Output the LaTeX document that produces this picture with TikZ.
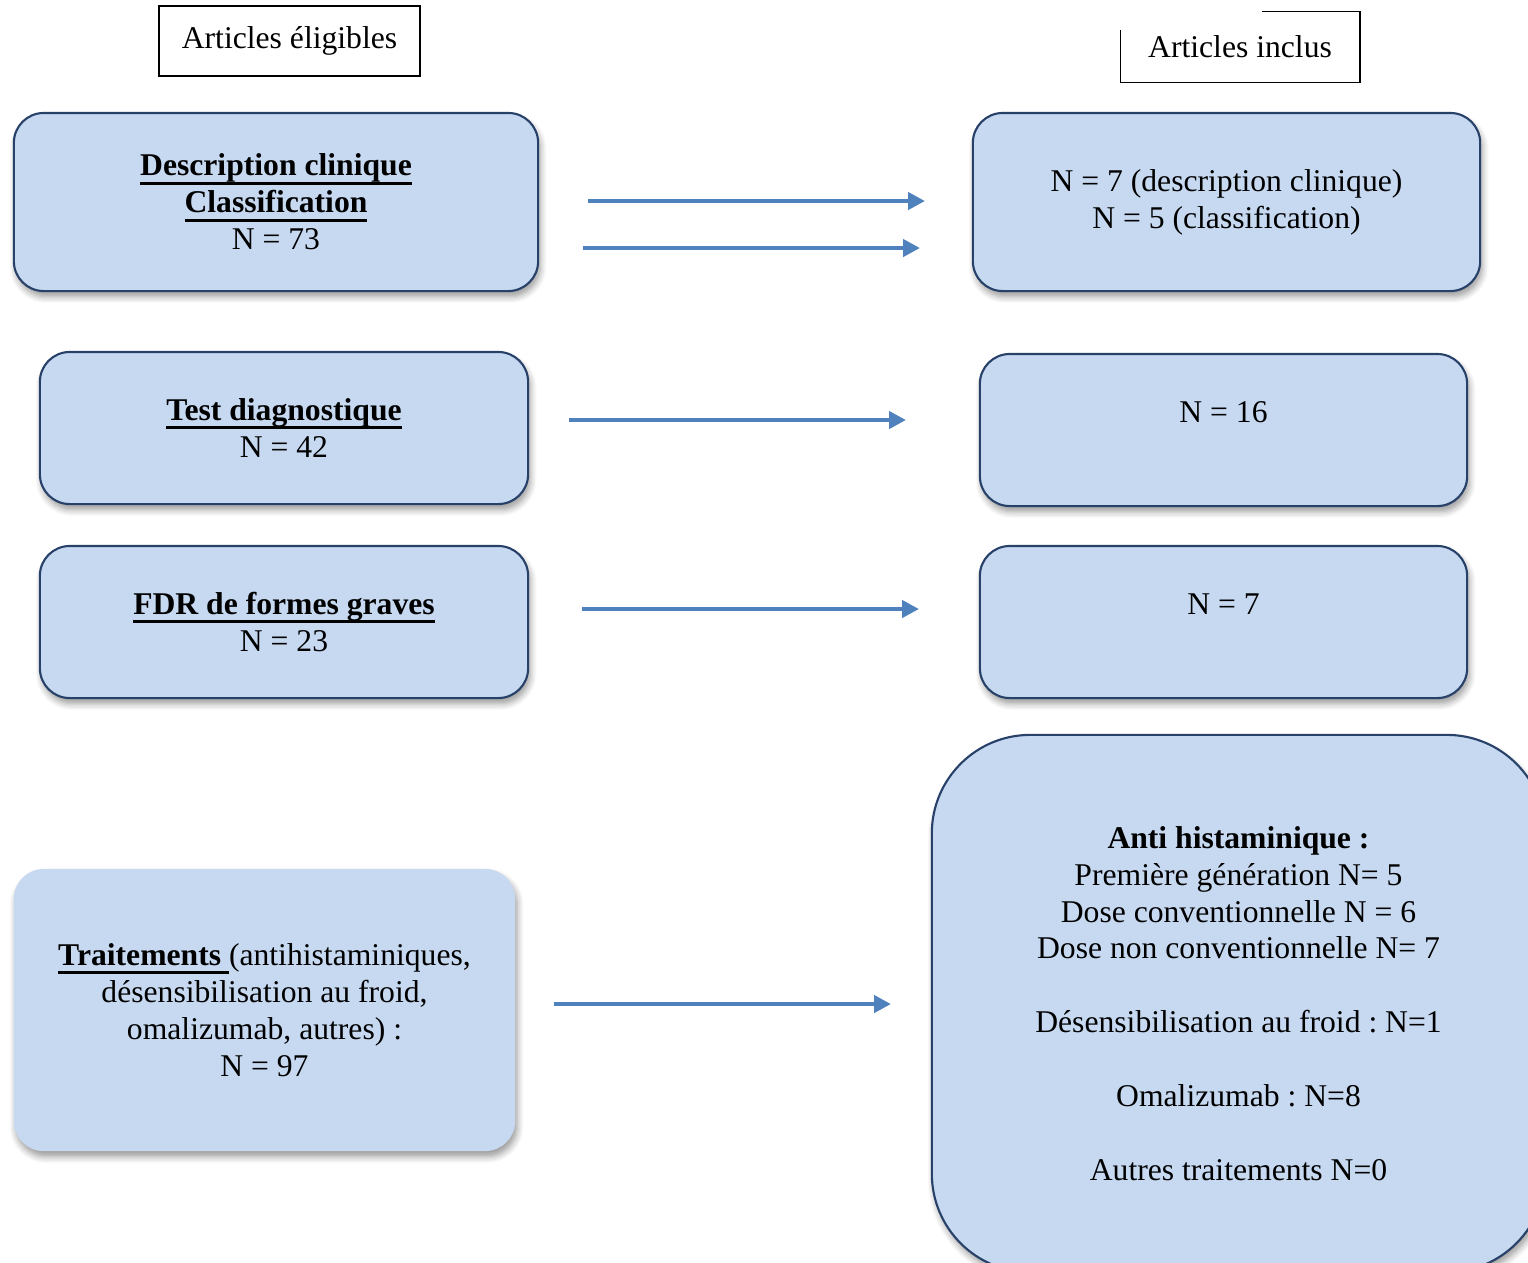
\documentclass[tikz,border=0pt]{standalone}
\usepackage{fontspec}
\setmainfont{Liberation Serif}
\usetikzlibrary{arrows.meta,shadows.blur}
\frenchspacing
\newcommand\ulb[1]{\setbox0\hbox{\textbf{#1}}\leavevmode\rlap{\rule[-2.5pt]{\wd0}{0.85pt}}\box0}
\definecolor{box_fill}{RGB}{198,217,241}
\definecolor{box_edge}{RGB}{40,65,105}
\definecolor{arrow_blue}{RGB}{79,129,189}

\begin{document}
\begin{tikzpicture}[x=0.01cm,y=-0.01cm,font=\fontsize{9}{10.5}\selectfont]
    \tikzstyle{head}=[draw=black, line width=0.4pt, inner sep=0pt, align=center]
    \tikzstyle{box}=[draw=box_edge, line width=0.6pt, fill=box_fill, rounded corners=8.5pt, align=center, inner sep=0pt,
      blur shadow={shadow xshift=0.6pt, shadow yshift=-1.6pt, shadow blur steps=6, shadow opacity=40}]
    \tikzstyle{arr}=[arrow_blue, line width=1.4pt, -{Triangle[length=4.8pt,width=4.8pt]}]

    \useasboundingbox (0,0) rectangle (1528,1262);

    % titres
    \node[head, minimum width=2.61cm, minimum height=0.70cm] (elig) at (289.5,41) {Articles éligibles};
    \node[inner sep=0pt, minimum width=2.38cm, minimum height=0.70cm] (incl) at (1240,47) {Articles inclus};
    \draw[line width=0.4pt] ([xshift=1.42cm]incl.north west) -- (incl.north east) -- (incl.south east)
      -- (incl.south west) -- ([yshift=-0.19cm]incl.north west);

    % colonne gauche
    \node[box, minimum width=5.24cm, minimum height=1.78cm] (desc) at (276,202)
      {\ulb{Description clinique}\\ \ulb{Classification}\\ N = 73};
    \node[box, minimum width=4.88cm, minimum height=1.52cm] (test) at (284,428)
      {\ulb{Test diagnostique}\\ N = 42};
    \node[box, minimum width=4.88cm, minimum height=1.52cm] (fdr) at (284,622)
      {\ulb{FDR de formes graves}\\ N = 23};
    \node[box, draw=none, minimum width=5.01cm, minimum height=2.82cm] (trait) at (264.5,1010)
      {\ulb{Traitements\ }(antihistaminiques,\\ désensibilisation au froid,\\ omalizumab, autres) :\\ N = 97};

    % colonne droite
    \node[box, minimum width=5.07cm, minimum height=1.78cm] (res1) at (1226.5,202)
      {N = 7 (description clinique)\\ N = 5 (classification)};
    \node[box, minimum width=4.87cm, minimum height=1.52cm] (res2) at (1223.5,430)
      {N = 16\\[-3.4pt] \strut};
    \node[box, minimum width=4.87cm, minimum height=1.52cm] (res3) at (1223.5,622)
      {N = 7\\[-3.4pt] \strut};
    \node[box, rounded corners=28pt, minimum width=6.13cm, minimum height=5.37cm] (res4) at (1238.5,1003.5)
      {\textbf{Anti histaminique :}\\ Première génération N= 5\\ Dose conventionnelle N = 6\\ Dose non conventionnelle N= 7\\[10.5pt]
       Désensibilisation au froid : N=1\\[10.5pt] Omalizumab : N=8\\[10.5pt] Autres traitements N=0};

    % fleches
    \coordinate (a1s) at (588,201);  \coordinate (a1e) at (925,201);
    \coordinate (a2s) at (583,248);  \coordinate (a2e) at (920,248);
    \coordinate (a3s) at (569,420);  \coordinate (a3e) at (906,420);
    \coordinate (a4s) at (582,609);  \coordinate (a4e) at (919,609);
    \coordinate (a5s) at (554,1004); \coordinate (a5e) at (891,1004);
    \foreach \i in {1,...,5}
      \draw[arr] (a\i s) -- (a\i e);
\end{tikzpicture}
\end{document}
